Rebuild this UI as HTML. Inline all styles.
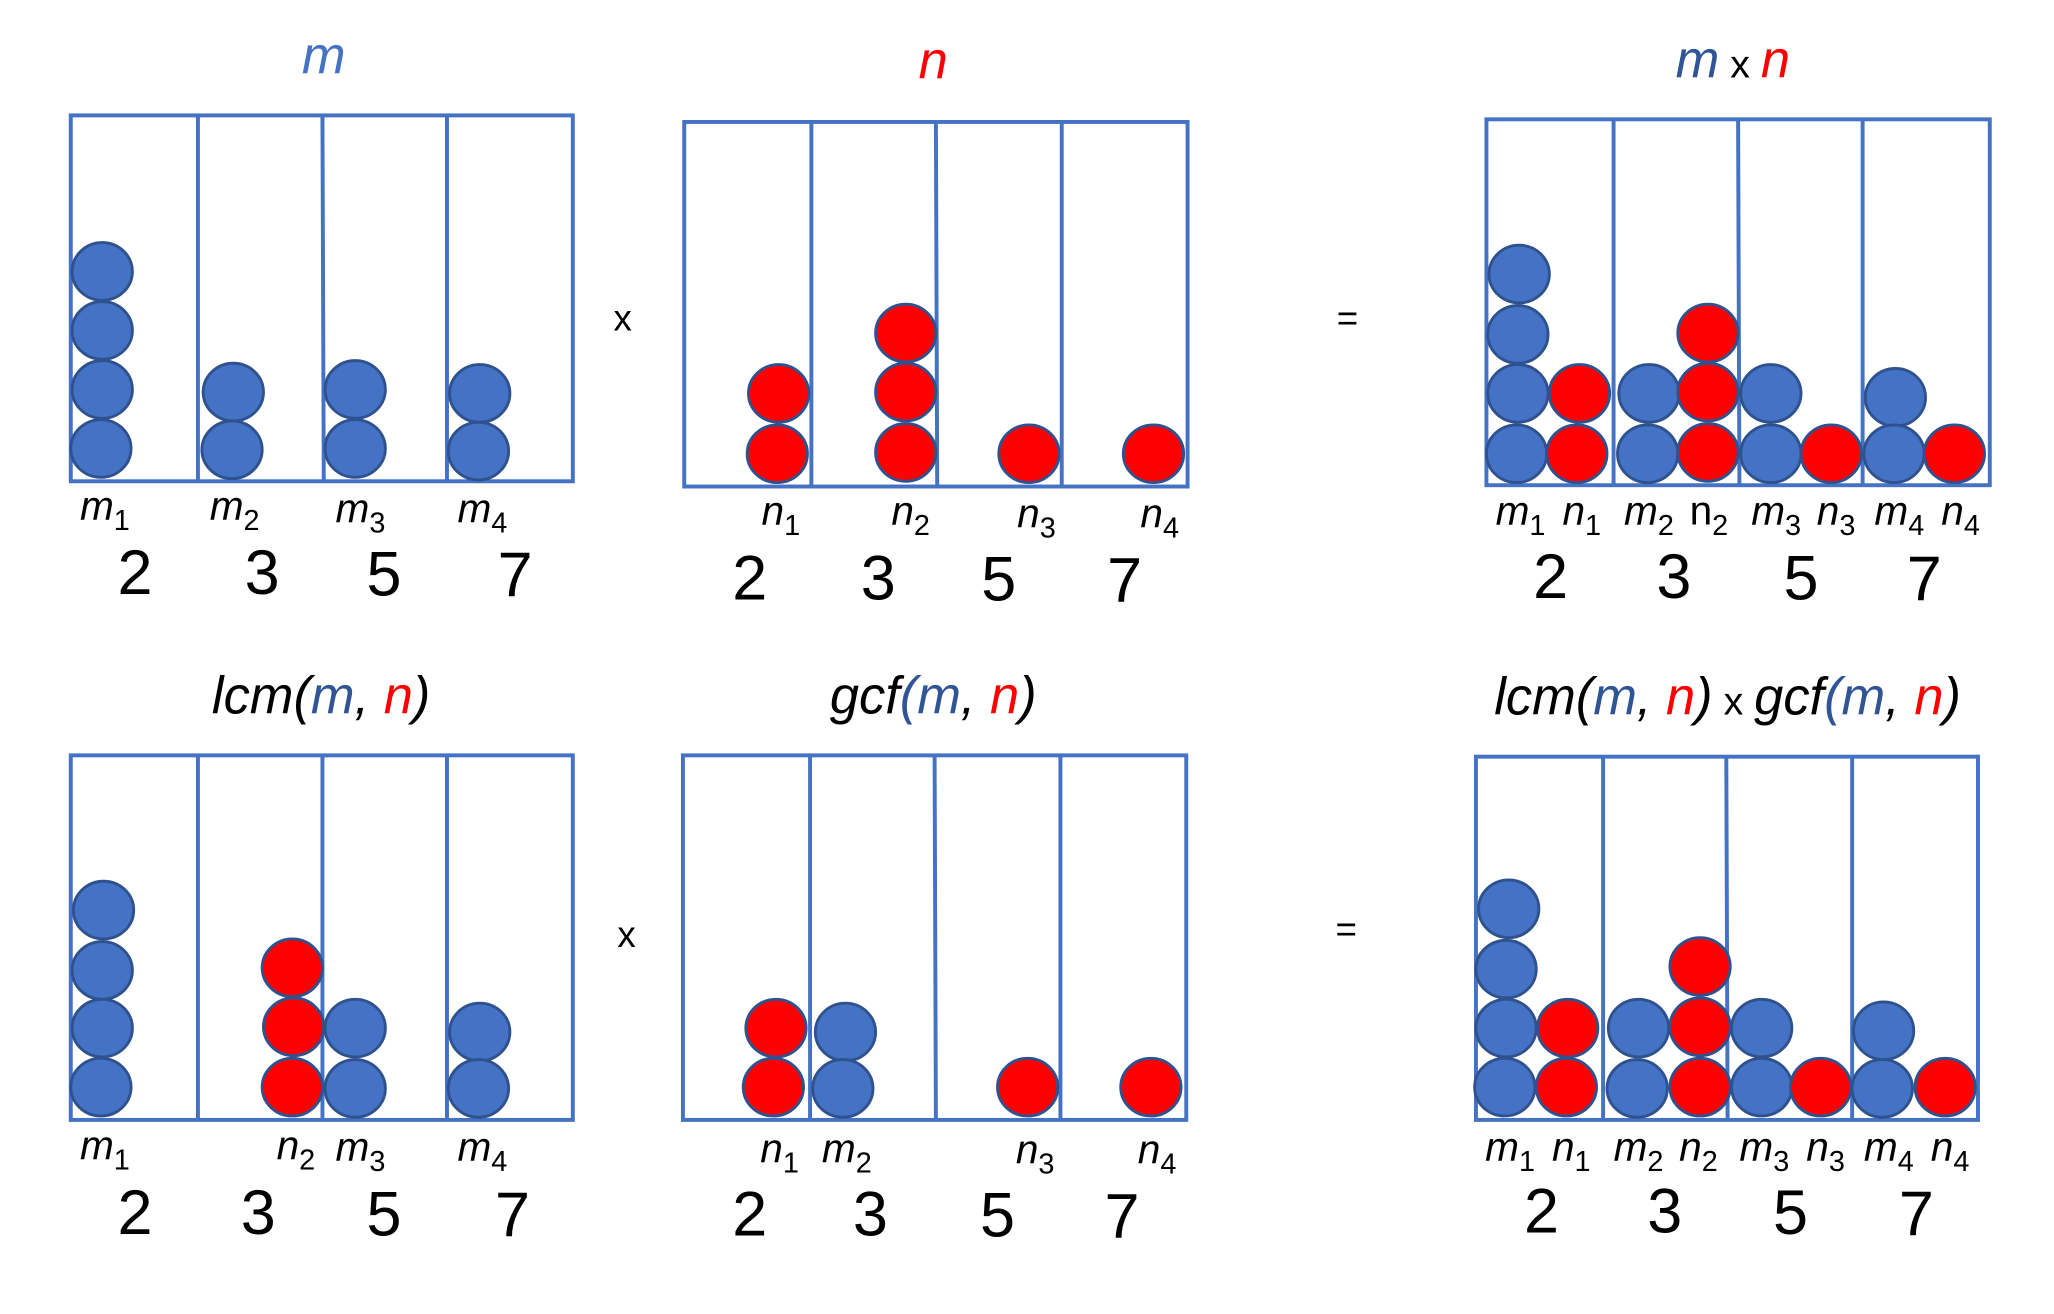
<!DOCTYPE html>
<html><head><meta charset="utf-8"><style>
html,body{margin:0;padding:0;background:#fff;}
svg{display:block;}
.b{fill:#4472C4;stroke:#2F528F;stroke-width:2.2}
.r{fill:#FF0000;stroke:#2F528F;stroke-width:2.2}
.box{fill:none;stroke:#4472C4;stroke-width:3}
.dv{stroke:#4472C4;stroke-width:3}
text{font-family:"Liberation Sans",sans-serif;fill:#000}
.lb{font-size:31px;font-style:italic}
.lb tspan{font-size:22px;font-style:normal}
.num{font-size:48px;text-anchor:middle}
.ti{font-size:40px;font-style:italic;text-anchor:middle}
.op{font-size:28px;text-anchor:middle}
.bl{fill:#2F5597}
.rd{fill:#FF0000}
</style></head><body>
<svg width="2054" height="1314" viewBox="0 0 1567 1002" preserveAspectRatio="none" xmlns="http://www.w3.org/2000/svg">
<!-- Panel 1: m -->
<text class="ti" x="247" y="56" style="fill:#4472C4">m</text>
<rect class="box" x="54" y="88" width="383" height="279"/>
<line class="dv" x1="151" y1="88" x2="151" y2="367"/><line class="dv" x1="246" y1="88" x2="247" y2="367"/><line class="dv" x1="341" y1="88" x2="341" y2="367"/>
<ellipse class="b" cx="78" cy="207" rx="23" ry="22"/><ellipse class="b" cx="78" cy="252" rx="23" ry="22"/><ellipse class="b" cx="78" cy="297" rx="23" ry="22"/><ellipse class="b" cx="77" cy="342" rx="23" ry="22"/>
<ellipse class="b" cx="178" cy="299" rx="23" ry="22"/><ellipse class="b" cx="177" cy="343" rx="23" ry="22"/>
<ellipse class="b" cx="271" cy="297" rx="23" ry="22"/><ellipse class="b" cx="271" cy="342" rx="23" ry="22"/>
<ellipse class="b" cx="366" cy="300" rx="23" ry="22"/><ellipse class="b" cx="365" cy="344" rx="23" ry="22"/>
<text class="lb" x="61" y="396">m<tspan dy="8">1</tspan></text>
<text class="lb" x="160" y="396">m<tspan dy="8">2</tspan></text>
<text class="lb" x="256" y="398">m<tspan dy="8">3</tspan></text>
<text class="lb" x="349" y="398">m<tspan dy="8">4</tspan></text>
<text class="num" x="103" y="453">2</text><text class="num" x="200" y="453">3</text><text class="num" x="293" y="454">5</text><text class="num" x="393" y="455">7</text>
<text class="op" x="475" y="252">x</text>

<!-- Panel 2: n -->
<text class="ti rd" x="712" y="60">n</text>
<rect class="box" x="522" y="93" width="384" height="278"/>
<line class="dv" x1="619" y1="93" x2="619" y2="371"/><line class="dv" x1="714" y1="93" x2="715" y2="371"/><line class="dv" x1="810" y1="93" x2="810" y2="371"/>
<ellipse class="r" cx="594" cy="300" rx="23" ry="22"/><ellipse class="r" cx="593" cy="346" rx="23" ry="22"/>
<ellipse class="r" cx="691" cy="254" rx="23" ry="22"/><ellipse class="r" cx="691" cy="299" rx="23" ry="22"/><ellipse class="r" cx="691" cy="345" rx="23" ry="22"/>
<ellipse class="r" cx="785" cy="346" rx="23" ry="22"/><ellipse class="r" cx="880" cy="346" rx="23" ry="22"/>
<text class="lb" x="581" y="400">n<tspan dy="8">1</tspan></text>
<text class="lb" x="680" y="400">n<tspan dy="8">2</tspan></text>
<text class="lb" x="776" y="402">n<tspan dy="8">3</tspan></text>
<text class="lb" x="870" y="402">n<tspan dy="8">4</tspan></text>
<text class="num" x="572" y="457">2</text><text class="num" x="670" y="457">3</text><text class="num" x="762" y="458">5</text><text class="num" x="858" y="459">7</text>
<text class="op" x="1028" y="252">=</text>

<!-- Panel 3: m x n -->
<text class="ti" x="1322" y="59"><tspan class="bl">m</tspan><tspan style="font-style:normal;font-size:30px"> x </tspan><tspan class="rd">n</tspan></text>
<rect class="box" x="1134" y="91" width="384" height="279"/>
<line class="dv" x1="1231" y1="91" x2="1231" y2="370"/><line class="dv" x1="1326" y1="91" x2="1327" y2="370"/><line class="dv" x1="1421" y1="91" x2="1421" y2="370"/>
<ellipse class="b" cx="1159" cy="209" rx="23" ry="22"/><ellipse class="b" cx="1158" cy="255" rx="23" ry="22"/><ellipse class="b" cx="1158" cy="300" rx="23" ry="22"/><ellipse class="b" cx="1157" cy="346" rx="23" ry="22"/>
<ellipse class="r" cx="1205" cy="300" rx="23" ry="22"/><ellipse class="r" cx="1203" cy="346" rx="23" ry="22"/>
<ellipse class="b" cx="1258" cy="300" rx="23" ry="22"/><ellipse class="b" cx="1257" cy="346" rx="23" ry="22"/>
<ellipse class="r" cx="1303" cy="254" rx="23" ry="22"/><ellipse class="r" cx="1303" cy="299" rx="23" ry="22"/><ellipse class="r" cx="1303" cy="345" rx="23" ry="22"/>
<ellipse class="b" cx="1351" cy="300" rx="23" ry="22"/><ellipse class="b" cx="1351" cy="346" rx="23" ry="22"/>
<ellipse class="r" cx="1397" cy="346" rx="23" ry="22"/>
<ellipse class="b" cx="1446" cy="303" rx="23" ry="22"/><ellipse class="b" cx="1445" cy="346" rx="23" ry="22"/>
<ellipse class="r" cx="1491" cy="346" rx="23" ry="22"/>
<text class="lb" x="1141" y="400">m<tspan dy="8">1</tspan></text>
<text class="lb" x="1192" y="400">n<tspan dy="8">1</tspan></text>
<text class="lb" x="1239" y="400">m<tspan dy="8">2</tspan></text>
<text class="lb" x="1289" y="400" style="font-style:normal">n<tspan dy="8">2</tspan></text>
<text class="lb" x="1336" y="400">m<tspan dy="8">3</tspan></text>
<text class="lb" x="1386" y="400">n<tspan dy="8">3</tspan></text>
<text class="lb" x="1430" y="400">m<tspan dy="8">4</tspan></text>
<text class="lb" x="1481" y="400">n<tspan dy="8">4</tspan></text>
<text class="num" x="1183" y="456">2</text><text class="num" x="1277" y="456">3</text><text class="num" x="1374" y="457">5</text><text class="num" x="1468" y="458">7</text>

<!-- Panel 4: lcm -->
<text class="ti" x="245" y="544">lcm(<tspan class="bl">m</tspan>, <tspan class="rd">n</tspan>)</text>
<rect class="box" x="54" y="576" width="383" height="278"/>
<line class="dv" x1="151" y1="576" x2="151" y2="854"/><line class="dv" x1="246" y1="576" x2="246" y2="854"/><line class="dv" x1="341" y1="576" x2="341" y2="854"/>
<ellipse class="b" cx="79" cy="694" rx="23" ry="22"/><ellipse class="b" cx="78" cy="740" rx="23" ry="22"/><ellipse class="b" cx="78" cy="784" rx="23" ry="22"/><ellipse class="b" cx="77" cy="829" rx="23" ry="22"/>
<ellipse class="r" cx="223" cy="738" rx="23" ry="22"/><ellipse class="r" cx="224" cy="783" rx="23" ry="22"/><ellipse class="r" cx="223" cy="829" rx="23" ry="22"/>
<ellipse class="b" cx="271" cy="784" rx="23" ry="22"/><ellipse class="b" cx="271" cy="830" rx="23" ry="22"/>
<ellipse class="b" cx="366" cy="787" rx="23" ry="22"/><ellipse class="b" cx="365" cy="830" rx="23" ry="22"/>
<text class="lb" x="61" y="884">m<tspan dy="8">1</tspan></text>
<text class="lb" x="211" y="884">n<tspan dy="8">2</tspan></text>
<text class="lb" x="256" y="885">m<tspan dy="8">3</tspan></text>
<text class="lb" x="349" y="885">m<tspan dy="8">4</tspan></text>
<text class="num" x="103" y="941">2</text><text class="num" x="197" y="941">3</text><text class="num" x="293" y="942">5</text><text class="num" x="391" y="943">7</text>
<text class="op" x="478" y="722">x</text>

<!-- Panel 5: gcf -->
<text class="ti" x="712" y="544">gcf<tspan class="bl">(m</tspan>, <tspan class="rd">n</tspan>)</text>
<rect class="box" x="521" y="576" width="384" height="278"/>
<line class="dv" x1="618" y1="576" x2="618" y2="854"/><line class="dv" x1="713" y1="576" x2="714" y2="854"/><line class="dv" x1="809" y1="576" x2="809" y2="854"/>
<ellipse class="r" cx="592" cy="784" rx="23" ry="22"/><ellipse class="r" cx="590" cy="829" rx="23" ry="22"/>
<ellipse class="b" cx="645" cy="787" rx="23" ry="22"/><ellipse class="b" cx="643" cy="830" rx="23" ry="22"/>
<ellipse class="r" cx="784" cy="829" rx="23" ry="22"/><ellipse class="r" cx="878" cy="829" rx="23" ry="22"/>
<text class="lb" x="580" y="886">n<tspan dy="8">1</tspan></text>
<text class="lb" x="627" y="886">m<tspan dy="8">2</tspan></text>
<text class="lb" x="775" y="887">n<tspan dy="8">3</tspan></text>
<text class="lb" x="868" y="887">n<tspan dy="8">4</tspan></text>
<text class="num" x="572" y="942">2</text><text class="num" x="664" y="942">3</text><text class="num" x="761" y="943">5</text><text class="num" x="856" y="944">7</text>
<text class="op" x="1027" y="718">=</text>

<!-- Panel 6 -->
<text class="ti" x="1318" y="545">lcm(<tspan class="bl">m</tspan>, <tspan class="rd">n</tspan>)<tspan style="font-style:normal;font-size:30px"> x </tspan>gcf<tspan class="bl">(m</tspan>, <tspan class="rd">n</tspan>)</text>
<rect class="box" x="1126" y="577" width="383" height="277"/>
<line class="dv" x1="1223" y1="577" x2="1223" y2="854"/><line class="dv" x1="1317" y1="577" x2="1318" y2="854"/><line class="dv" x1="1413" y1="577" x2="1413" y2="854"/>
<ellipse class="b" cx="1151" cy="693" rx="23" ry="22"/><ellipse class="b" cx="1149" cy="739" rx="23" ry="22"/><ellipse class="b" cx="1149" cy="784" rx="23" ry="22"/><ellipse class="b" cx="1148" cy="829" rx="23" ry="22"/>
<ellipse class="r" cx="1196" cy="784" rx="23" ry="22"/><ellipse class="r" cx="1195" cy="829" rx="23" ry="22"/>
<ellipse class="b" cx="1250" cy="784" rx="23" ry="22"/><ellipse class="b" cx="1249" cy="830" rx="23" ry="22"/>
<ellipse class="r" cx="1297" cy="737" rx="23" ry="22"/><ellipse class="r" cx="1297" cy="783" rx="23" ry="22"/><ellipse class="r" cx="1297" cy="829" rx="23" ry="22"/>
<ellipse class="b" cx="1344" cy="784" rx="23" ry="22"/><ellipse class="b" cx="1344" cy="829" rx="23" ry="22"/>
<ellipse class="r" cx="1389" cy="829" rx="23" ry="22"/>
<ellipse class="b" cx="1437" cy="786" rx="23" ry="22"/><ellipse class="b" cx="1436" cy="830" rx="23" ry="22"/>
<ellipse class="r" cx="1484" cy="829" rx="23" ry="22"/>
<text class="lb" x="1133" y="885">m<tspan dy="8">1</tspan></text>
<text class="lb" x="1184" y="885">n<tspan dy="8">1</tspan></text>
<text class="lb" x="1231" y="885">m<tspan dy="8">2</tspan></text>
<text class="lb" x="1281" y="885">n<tspan dy="8">2</tspan></text>
<text class="lb" x="1327" y="885">m<tspan dy="8">3</tspan></text>
<text class="lb" x="1378" y="885">n<tspan dy="8">3</tspan></text>
<text class="lb" x="1422" y="885">m<tspan dy="8">4</tspan></text>
<text class="lb" x="1473" y="885">n<tspan dy="8">4</tspan></text>
<text class="num" x="1176" y="940">2</text><text class="num" x="1270" y="940">3</text><text class="num" x="1366" y="941">5</text><text class="num" x="1462" y="942">7</text>
</svg>
</body></html>
